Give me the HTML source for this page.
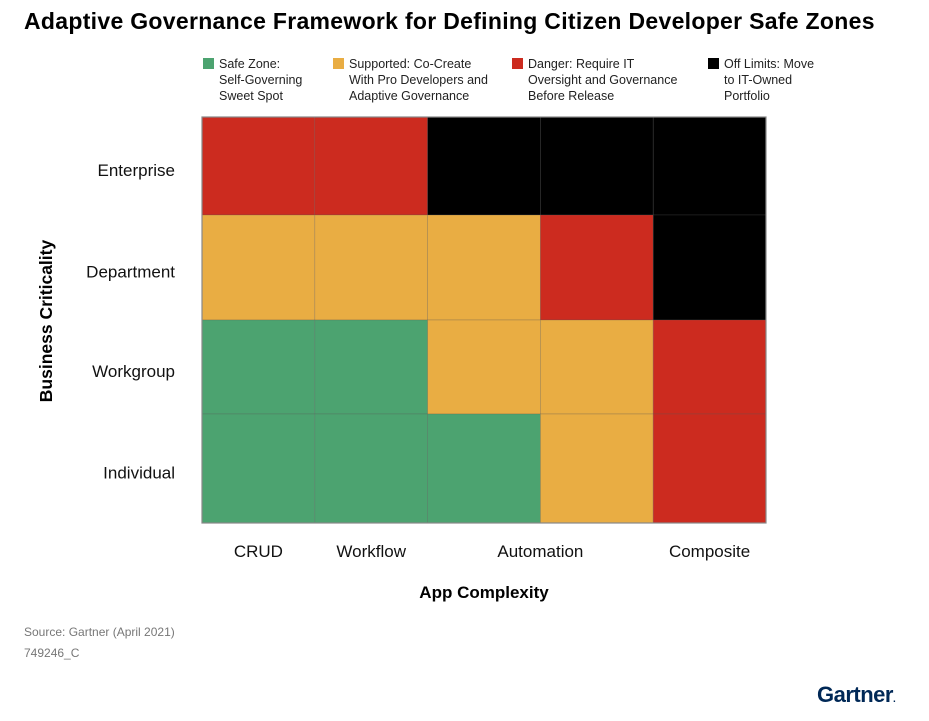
<!DOCTYPE html>
<html><head><meta charset="utf-8"><style>
body{margin:0;background:#fff;font-family:"Liberation Sans",sans-serif;}
#root{position:relative;width:929px;height:721px;overflow:hidden;}
.t{position:absolute;white-space:nowrap;}
</style></head><body>
<div id="root">
<div class="t" style="left:24px;top:8px;font-size:23px;font-weight:bold;color:#000;letter-spacing:0.3px">Adaptive Governance Framework for Defining Citizen Developer Safe Zones</div>
<svg id="chart" width="929" height="721" style="position:absolute;left:0;top:0"></svg>
<div class="t" style="left:24px;top:625px;font-size:12px;color:#777">Source: Gartner (April 2021)</div>
<div class="t" style="left:24px;top:646px;font-size:12px;color:#777">749246_C</div>
<div class="t" style="left:817px;top:682px;font-size:22px;font-weight:bold;color:#002856;letter-spacing:-0.5px">Gartner<span style="font-size:10px">.</span></div>
</div>
<script>
const rows=["Enterprise","Department","Workgroup","Individual"];
const xLabels=["CRUD","Workflow","Automation","Composite"];
const xLabelPos=[0.5,1.5,3,4.5];
const zones=[[2,2,3,3,3],[1,1,1,2,3],[0,0,1,1,2],[0,0,0,1,2]];
const legendNames=["Safe Zone:|Self-Governing|Sweet Spot","Supported: Co-Create|With Pro Developers and|Adaptive Governance","Danger: Require IT|Oversight and Governance|Before Release","Off Limits: Move|to IT-Owned|Portfolio"];
const colors=["#4ca370","#e9ad43","#cc2b1f","#000000"];
const NS="http://www.w3.org/2000/svg";
const svg=document.getElementById('chart');
const x0=202,x1=766;
const rowEdges=[117,215,320,414,523];
const colW=(x1-x0)/5;
function xs(c){return x0+c*colW;}
function mk(t,a){const e=document.createElementNS(NS,t);for(const k in a)e.setAttribute(k,a[k]);svg.appendChild(e);return e;}
zones.forEach((r,ri)=>r.forEach((z,ci)=>{
 const e=mk('rect',{x:xs(ci),y:rowEdges[ri],width:colW,height:rowEdges[ri+1]-rowEdges[ri],fill:colors[z],stroke:'rgba(90,90,90,0.35)','stroke-width':0.7});
 
 
}));
const b=mk('rect',{x:x0,y:117,width:x1-x0,height:406,fill:'none',stroke:'#888','stroke-width':1.2});


rows.forEach((r,i)=>{
 const t=mk('text',{x:175,y:(rowEdges[i]+rowEdges[i+1])/2+10,'text-anchor':'end','font-size':17,fill:'#111'});
 t.textContent=r;
 
 
});
xLabels.forEach((l,i)=>{
 const t=mk('text',{x:xs(xLabelPos[i]),y:557,'text-anchor':'middle','font-size':17,fill:'#111'});
 t.textContent=l;
 
 
});
const xt=mk('text',{x:484,y:598,'text-anchor':'middle','font-size':17,'font-weight':'bold',fill:'#000'});
xt.textContent="App Complexity";


const yt=mk('text',{x:0,y:0,'text-anchor':'middle','font-size':17.5,'font-weight':'bold',fill:'#000',transform:'translate(52,321) rotate(-90)'});
yt.textContent="Business Criticality";


const lx=[203,333,512,708];
legendNames.forEach((n,i)=>{
 const g=document.createElementNS(NS,'g');svg.appendChild(g);
 
 
 const s=document.createElementNS(NS,'rect');
 s.setAttribute('x',lx[i]);s.setAttribute('y',58);s.setAttribute('width',11);s.setAttribute('height',11);s.setAttribute('fill',colors[i]);
 g.appendChild(s);
 n.split('|').forEach((ln,j)=>{
  const t=document.createElementNS(NS,'text');
  t.setAttribute('x',lx[i]+16);t.setAttribute('y',68+j*16);t.setAttribute('font-size',12.5);t.setAttribute('fill','#222');
  t.textContent=ln;g.appendChild(t);
 });
});
</script>
</body></html>
